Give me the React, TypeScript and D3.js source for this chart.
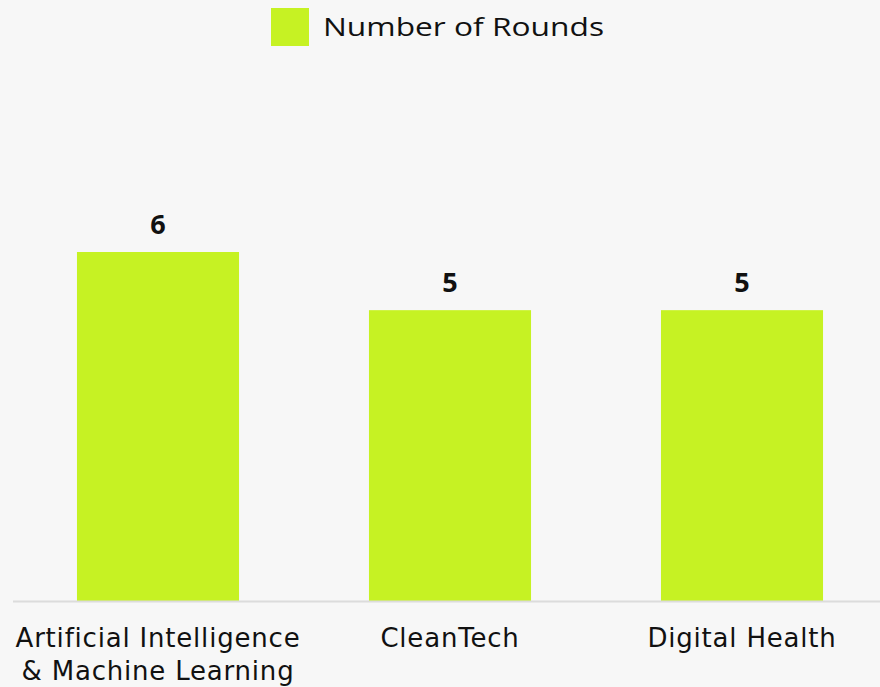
import React from "react";
import * as d3 from "d3";

const categories: string[][] = [
  ["Artificial Intelligence", "& Machine Learning"],
  ["CleanTech"],
  ["Digital Health"],
];
const values: number[] = [6, 5, 5];
const seriesName = "Number of Rounds";

const W = 880;
const H = 687;
const FONT = "'Open Sans', 'DejaVu Sans', sans-serif";
const LABEL_FONT = "'DejaVu Sans', sans-serif";
const BAR = "#c6f223";

export default function App() {
  const keys = categories.map((c) => c.join(" "));
  const x = d3.scaleBand<string>().domain(keys).range([12, 888]).paddingInner(0.445).paddingOuter(0.2225);
  const y = d3.scaleLinear().domain([0, 6]).range([601, 252]);

  return (
    <svg width={W} height={H} style={{ position: "absolute", left: 0, top: 0, background: "#f7f7f7" }}>
      <rect x={0} y={0} width={W} height={H} fill="#f7f7f7" />
      {/* legend */}
      <rect x={271} y={8} width={38} height={38} fill={BAR} />
      <text x={323} y={36} fontFamily={FONT} fontSize={26} fill="#111" textLength={281} lengthAdjust="spacingAndGlyphs">
        {seriesName}
      </text>
      {/* bars */}
      {values.map((v, i) => (
        <g key={keys[i]}>
          <rect x={x(keys[i])} y={y(v)} width={x.bandwidth()} height={y(0) - y(v)} fill={BAR} />
          <text
            x={(x(keys[i]) as number) + x.bandwidth() / 2}
            y={y(v) - 18}
            textAnchor="middle"
            fontFamily={FONT}
            fontWeight="bold"
            fontSize={27}
            fill="#111"
          >
            {v}
          </text>
        </g>
      ))}
      {/* axis line */}
      <line x1={13} x2={W} y1={601.5} y2={601.5} stroke="#dcdcdc" strokeWidth={2} />
      {/* axis labels */}
      {categories.map((lines, i) => (
        <text
          key={keys[i]}
          x={(x(keys[i]) as number) + x.bandwidth() / 2}
          textAnchor="middle"
          fontFamily={LABEL_FONT}
          fontSize={26}
          letterSpacing={0.8}
          fill="#111"
        >
          {lines.map((l, j) => (
            <tspan key={j} x={(x(keys[i]) as number) + x.bandwidth() / 2} y={647 + j * 33}>
              {l}
            </tspan>
          ))}
        </text>
      ))}
    </svg>
  );
}
